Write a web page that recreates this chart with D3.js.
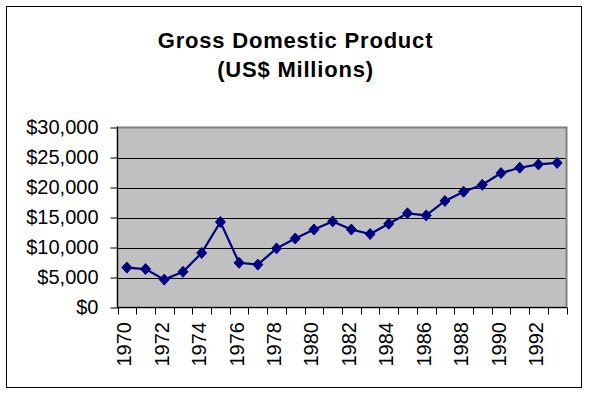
<!DOCTYPE html>
<html>
<head>
<meta charset="utf-8">
<script src="https://cdn.jsdelivr.net/npm/d3@7"></script>
<style>
  body { margin: 0; background: #fff; }
  svg { display: block; }
  text { font-family: Arial, "Liberation Sans", sans-serif; }
</style>
</head>
<body>
<div id="chart"></div>
<script>
// GDP, US$ millions
const years = [1970, 1971, 1972, 1973, 1974, 1975, 1976, 1977, 1978, 1979, 1980, 1981,
               1982, 1983, 1984, 1985, 1986, 1987, 1988, 1989, 1990, 1991, 1992, 1993]
const gdp = [6650, 6400, 4650, 5950, 9100, 14250, 7450, 7150, 9850, 11500, 13000, 14350,
             13000, 12250, 13950, 15700, 15350, 17750, 19300, 20450, 22400, 23300, 23850, 24100]
const yTicks = [0, 5000, 10000, 15000, 20000, 25000, 30000]
const titleLines = ['Gross Domestic Product', '(US$ Millions)']

const W = 591
const H = 397
const plot = {left: 117.5, top: 127.5, right: 566.5, bottom: 307.5}
const lineColor = '#000080'

const svg = d3.select('#chart').append('svg')
  .attr('width', W)
  .attr('height', H)

// chart frame
svg.append('rect')
  .attr('x', 6.5).attr('y', 6.5)
  .attr('width', 575).attr('height', 381)
  .attr('fill', 'white')
  .attr('stroke', 'black')
  .attr('stroke-width', 1)

svg.selectAll('.title')
  .data(titleLines).enter().append('text')
  .attr('class', 'title')
  .attr('x', 295.5)
  .attr('y', (d, i) => 48 + i * 29)
  .attr('text-anchor', 'middle')
  .attr('font-size', '22px')
  .attr('font-weight', 'bold')
  .attr('letter-spacing', '0.8px')
  .text(d => d)

const x = d3.scaleBand()
  .domain(years)
  .range([plot.left, plot.right])
  .padding(0)

const y = d3.scaleLinear()
  .domain([0, 30000])
  .range([plot.bottom, plot.top])

// plot area
svg.append('rect')
  .attr('x', plot.left).attr('y', plot.top)
  .attr('width', plot.right - plot.left)
  .attr('height', plot.bottom - plot.top)
  .attr('fill', '#C0C0C0')
  .attr('stroke', '#808080')
  .attr('stroke-width', 2)

svg.selectAll('.grid')
  .data(yTicks.filter(d => d > 0 && d < 30000)).enter().append('line')
  .attr('class', 'grid')
  .attr('x1', plot.left).attr('x2', plot.right - 1)
  .attr('y1', d => Math.round(y(d)) + 0.5)
  .attr('y2', d => Math.round(y(d)) + 0.5)
  .attr('stroke', 'black')
  .attr('stroke-width', 1)

// y axis
const yAxis = svg.append('g')
  .attr('transform', 'translate(' + plot.left + ',0)')
  .call(d3.axisLeft(y)
    .tickValues(yTicks)
    .tickSize(7)
    .tickPadding(12)
    .tickFormat(d => '$' + d3.format(',')(d)))
yAxis.select('.domain').remove()
yAxis.selectAll('text')
  .attr('font-size', '20px')
  .attr('fill', 'black')
  .attr('font-family', 'Arial, "Liberation Sans", sans-serif')
yAxis.selectAll('line').attr('stroke', 'black')

svg.append('line')
  .attr('x1', plot.left).attr('x2', plot.left)
  .attr('y1', plot.top - 1).attr('y2', plot.bottom)
  .attr('stroke', 'black')

// x axis: ticks on category edges, labels every other year
const edges = years.map(d => x(d)).concat([x.range()[1]])
svg.selectAll('.xtick')
  .data(edges).enter().append('line')
  .attr('class', 'xtick')
  .attr('x1', d => Math.round(d) + 0.5).attr('x2', d => Math.round(d) + 0.5)
  .attr('y1', plot.bottom).attr('y2', plot.bottom + 7)
  .attr('stroke', 'black')

svg.append('line')
  .attr('x1', plot.left).attr('x2', plot.right)
  .attr('y1', plot.bottom).attr('y2', plot.bottom)
  .attr('stroke', 'black')

svg.selectAll('.xlabel')
  .data(years.filter((d, i) => i % 2 === 0)).enter().append('text')
  .attr('class', 'xlabel')
  .attr('transform', d => 'translate(' + (x(d) + x.bandwidth() / 2 - 2.5) + ',322) rotate(-90)')
  .attr('text-anchor', 'end')
  .attr('dy', '0.35em')
  .attr('font-size', '20px')
  .text(d => d)

// series
const line = d3.line()
  .x((d, i) => x(years[i]) + x.bandwidth() / 2)
  .y(d => y(d))

svg.append('path')
  .datum(gdp)
  .attr('d', line)
  .attr('fill', 'none')
  .attr('stroke', lineColor)
  .attr('stroke-width', 2.2)

svg.selectAll('.marker')
  .data(gdp).enter().append('path')
  .attr('class', 'marker')
  .attr('transform', (d, i) => 'translate(' + (x(years[i]) + x.bandwidth() / 2) + ',' + y(d) + ')')
  .attr('d', 'M0,-5.5L5,0L0,5.5L-5,0Z')
  .attr('fill', lineColor)
  .attr('stroke', lineColor)
  .attr('stroke-width', 1)
</script>
</body>
</html>
